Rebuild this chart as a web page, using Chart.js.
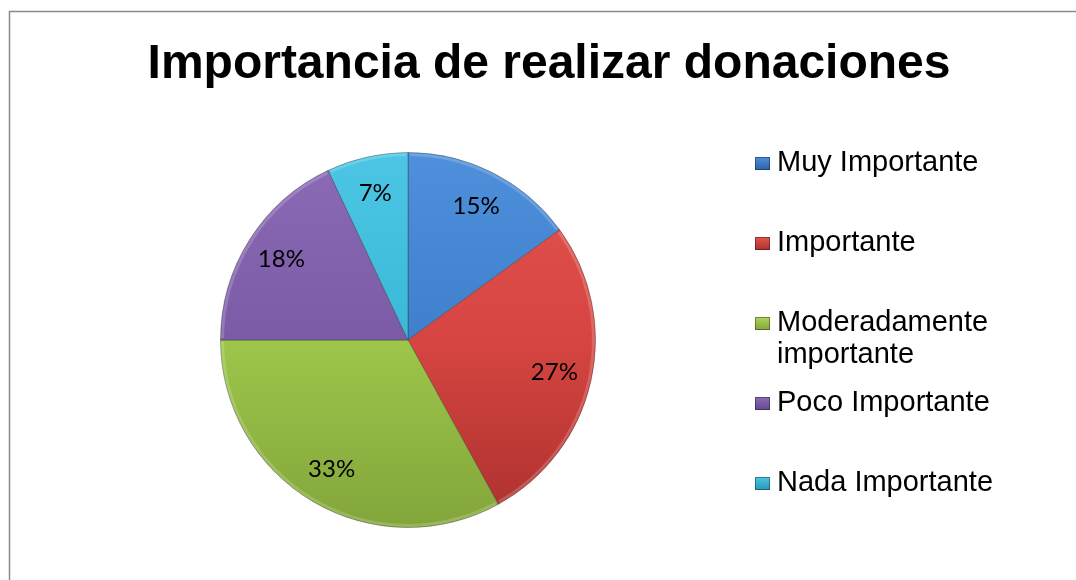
<!DOCTYPE html>
<html>
<head>
<meta charset="utf-8">
<script src="https://cdn.jsdelivr.net/npm/chart.js@4.4.1/dist/chart.umd.min.js"></script>
<style>
  html, body { margin: 0; padding: 0; background: #ffffff; }
  #wrap { position: relative; width: 1076px; height: 580px; }
</style>
</head>
<body>
<div id="wrap"><canvas id="c" width="1076" height="580"></canvas></div>
<script>
const chartTitle = 'Importancia de realizar donaciones';
const categories = ['Muy Importante', 'Importante', ['Moderadamente', 'importante'], 'Poco Importante', 'Nada Importante'];
const shares = [15, 27, 33, 18, 7];
const baseColors = ['#3F80CC', '#D64541', '#9DC64B', '#7B5BA5', '#3BB8D8'];
const lightColors = ['#4E90DC', '#E4544F', '#ACD65A', '#8B6BB6', '#4CC6E4'];
const darkColors = ['#2E62A6', '#AC302D', '#82A53A', '#654A8E', '#2A97B6'];

function sliceFill(ctx) {
  const chart = ctx.chart;
  const a = chart.chartArea;
  if (!a) return baseColors[ctx.dataIndex];
  const g = chart.ctx.createLinearGradient(0, a.top, 0, a.bottom);
  g.addColorStop(0, lightColors[ctx.dataIndex]);
  g.addColorStop(0.5, baseColors[ctx.dataIndex]);
  g.addColorStop(1, darkColors[ctx.dataIndex]);
  return g;
}

const framePlugin = {
  id: 'frame',
  beforeDraw(chart) {
    const c = chart.ctx;
    c.save();
    c.fillStyle = '#ffffff';
    c.fillRect(0, 0, chart.width, chart.height);
    c.strokeStyle = '#8a8a8a';
    c.lineWidth = 1.5;
    c.strokeRect(9.5, 11.5, chart.width + 20, chart.height + 20);
    c.restore();
  }
};

const decorPlugin = {
  id: 'decor',
  afterDatasetsDraw(chart) {
    const c = chart.ctx;
    const meta = chart.getDatasetMeta(0);
    c.save();
    meta.data.forEach((arc) => {
      const p = arc.getProps(['x', 'y', 'startAngle', 'endAngle', 'outerRadius'], true);
      c.beginPath();
      c.arc(p.x, p.y, p.outerRadius - 2, p.startAngle + 0.01, p.endAngle - 0.01);
      c.strokeStyle = 'rgba(255,255,255,0.18)';
      c.lineWidth = 3;
      c.stroke();
    });
    c.restore();
  },
  afterDraw(chart) {
    const c = chart.ctx;
    c.save();
    c.fillStyle = '#000000';
    c.font = 'bold 48px "Liberation Sans", Arial, sans-serif';
    c.textAlign = 'center';
    c.textBaseline = 'alphabetic';
    c.fillText(chartTitle, 549, 78);

    const meta = chart.getDatasetMeta(0);
    const data = chart.data.datasets[0].data;
    const total = data.reduce((s, v) => s + v, 0);
    c.font = '24px Lato, "Open Sans", sans-serif';
    c.textAlign = 'center';
    c.textBaseline = 'middle';
    meta.data.forEach((arc, i) => {
      const p = arc.getProps(['x', 'y', 'startAngle', 'endAngle', 'outerRadius'], true);
      const mid = (p.startAngle + p.endAngle) / 2;
      const r = p.outerRadius * 0.8;
      const pct = Math.round(data[i] / total * 100) + '%';
      c.fillStyle = '#000000';
      c.fillText(pct, p.x + Math.cos(mid) * r, p.y + Math.sin(mid) * r);
    });

    c.font = '29px "Liberation Sans", Arial, sans-serif';
    c.textAlign = 'left';
    c.textBaseline = 'alphabetic';
    let base = 171;
    chart.data.labels.forEach((lab, i) => {
      const lines = Array.isArray(lab) ? lab : [lab];
      const bx = 755, by = base - 14;
      const g = c.createLinearGradient(0, by, 0, by + 13);
      g.addColorStop(0, lightColors[i]);
      g.addColorStop(1, darkColors[i]);
      c.fillStyle = g;
      c.fillRect(bx, by, 15, 13);
      c.strokeStyle = 'rgba(0,0,0,0.35)';
      c.lineWidth = 1;
      c.strokeRect(bx + 0.5, by + 0.5, 14, 12);
      c.fillStyle = '#000000';
      lines.forEach((ln, k) => c.fillText(ln, 777, base + k * 32));
      base += 80;
    });
    c.restore();
  }
};

new Chart(document.getElementById('c'), {
  type: 'pie',
  data: {
    labels: categories,
    datasets: [{
      data: shares,
      backgroundColor: sliceFill,
      borderColor: 'rgba(40,40,40,0.35)',
      borderWidth: 1
    }]
  },
  options: {
    responsive: false,
    animation: false,
    layout: { padding: { left: 220, right: 480, top: 152, bottom: 52 } },
    plugins: {
      legend: { display: false },
      title: { display: false },
      tooltip: { enabled: false }
    }
  },
  plugins: [framePlugin, decorPlugin]
});
</script>
</body>
</html>
